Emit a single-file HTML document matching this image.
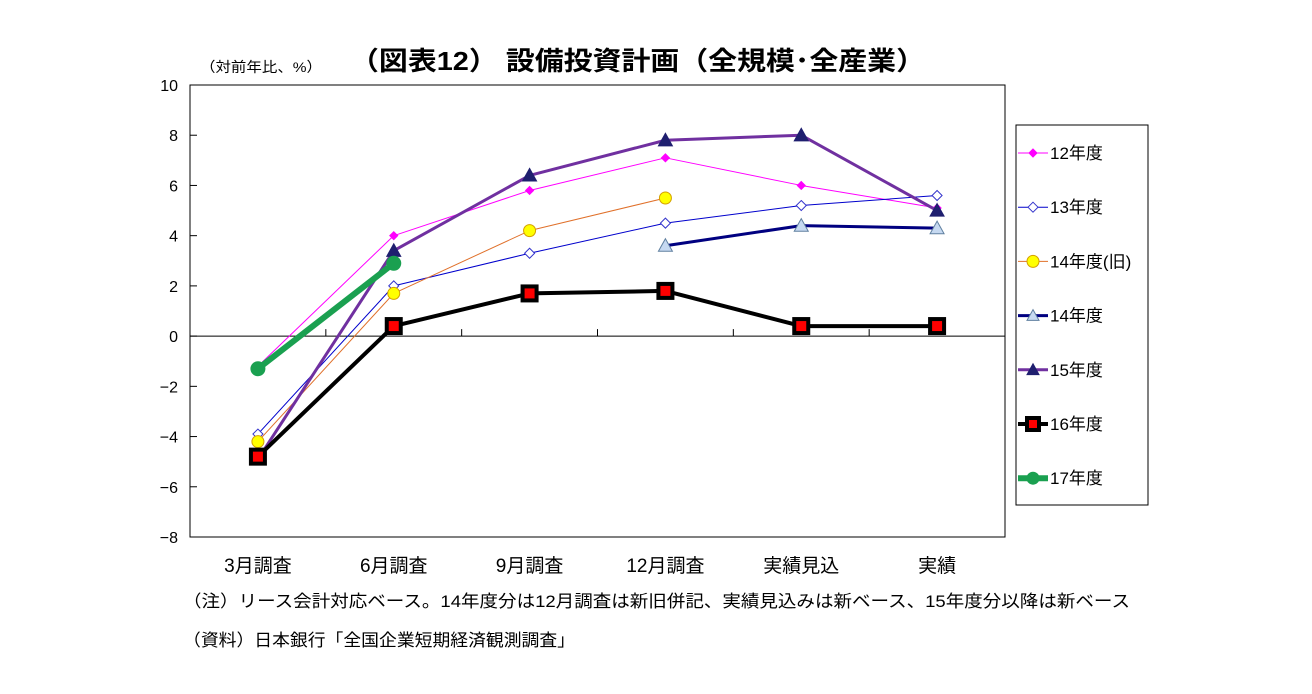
<!DOCTYPE html>
<html><head><meta charset="utf-8"><style>
body{margin:0;background:#fff;width:1312px;height:689px;overflow:hidden;font-family:"Liberation Sans","Noto Sans CJK JP",sans-serif}
svg text{font-family:"Liberation Sans","Noto Sans CJK JP",sans-serif}
</style></head><body>
<svg id="c" width="1312" height="689"></svg>
<script>
const categories=["3月調査","6月調査","9月調査","12月調査","実績見込","実績"];
const yTicks=[10,8,6,4,2,0,-2,-4,-6,-8];
const s12=[-1.2,4.0,5.8,7.1,6.0,5.1];
const s13=[-3.9,2.0,3.3,4.5,5.2,5.6];
const s14old=[-4.2,1.7,4.2,5.5,null,null];
const s14=[null,null,null,3.6,4.4,4.3];
const s15=[-4.9,3.4,6.4,7.8,8.0,5.0];
const s16=[-4.8,0.4,1.7,1.8,0.4,0.4];
const s17=[-1.3,2.9,null,null,null,null];
const seriesNames=["12年度","13年度","14年度(旧)","14年度","15年度","16年度","17年度"];

const NS="http://www.w3.org/2000/svg",svg=document.getElementById('c');
const L=190,R=1005,T=85,B=537,yMin=-8,yMax=10;
const xs=i=>L+(R-L)/categories.length*(i+0.5);
const ys=v=>B-(v-yMin)/(yMax-yMin)*(B-T);
function el(t,a,p){const e=document.createElementNS(NS,t);for(const k in a)e.setAttribute(k,a[k]);(p||svg).appendChild(e);return e;}
function txt(x,y,s,a,p){const e=el('text',Object.assign({x,y},a),p);e.textContent=s;return e;}

const st=[
 {d:s12,c:"#ff00ff",w:1,m:"diamond",mf:"#ff00ff",ms:4},
 {d:s13,c:"#0000cc",w:1,m:"diamond",mf:"#fff",ms:5,mc:"#3333cc"},
 {d:s14old,c:"#e0702a",w:1,m:"circle",mf:"#ffff00",ms:6,mc:"#d4a000"},
 {d:s14,c:"#000080",w:3,m:"tri",mf:"#c6d9f1",ms:7,mc:"#6080a0"},
 {d:s15,c:"#7030a0",w:3,m:"tri",mf:"#1f1f6f",ms:7,mc:"#1f1f6f"},
 {d:s16,c:"#000",w:4,m:"square",mf:"#ff0000",ms:7,mc:"#000"},
 {d:s17,c:"#1aa050",w:6,m:"circle",mf:"#1aa050",ms:7,mc:"#1aa050"}
];
function marker(g,m,x,y){
 let e;
 if(m.m=="diamond")e=el('polygon',{points:`${x},${y-m.ms} ${x+m.ms},${y} ${x},${y+m.ms} ${x-m.ms},${y}`},g);
 else if(m.m=="circle")e=el('circle',{cx:x,cy:y,r:m.ms},g);
 else if(m.m=="tri")e=el('polygon',{points:`${x},${y-m.ms} ${x+m.ms},${y+m.ms*0.8} ${x-m.ms},${y+m.ms*0.8}`},g);
 else {e=el('rect',{x:x-m.ms,y:y-m.ms,width:m.ms*2,height:m.ms*2},g);e.setAttribute('stroke-width',4);}
 e.setAttribute('fill',m.mf);e.setAttribute('stroke',m.mc||m.c);
 if(m.m!="square")e.setAttribute('stroke-width',1);
 return e;
}
const pa=el('rect',{x:L,y:T,width:R-L,height:B-T,fill:"#fff",stroke:"#000","stroke-width":1});

yTicks.forEach(v=>{
 el('line',{x1:L,x2:L+7,y1:ys(v),y2:ys(v),stroke:"#000"});
 const t=txt(L-12,ys(v)+6,String(v).replace('-','−'),{"text-anchor":"end","font-size":16});
 
});
const zl=el('line',{x1:L,x2:R,y1:ys(0),y2:ys(0),stroke:"#000"});

for(let i=1;i<categories.length;i++){const x=L+(R-L)/categories.length*i;el('line',{x1:x,x2:x,y1:ys(0),y2:ys(0)-7,stroke:"#000"});}
categories.forEach((c,i)=>{const t=txt(xs(i),572,c,{"text-anchor":"middle","font-size":19});
 });
st.forEach((s,k)=>{
 const g=el('g',{});
 
 let pts=[];s.d.forEach((v,i)=>{if(v!=null)pts.push(xs(i)+","+ys(v));});
 el('polyline',{points:pts.join(" "),fill:"none",stroke:s.c,"stroke-width":s.w,"stroke-linejoin":"round"},g);
 s.d.forEach((v,i)=>{if(v!=null){const m=marker(g,s,xs(i),ys(v));}});
});
const lg=el('g',{});
el('rect',{x:1016,y:125,width:132,height:380,fill:"#fff",stroke:"#000"},lg);
st.forEach((s,k)=>{
 const y=153+k*54.2,g=el('g',{},lg);
 
 el('line',{x1:1018,x2:1048,y1:y,y2:y,stroke:s.c,"stroke-width":s.w},g);
 marker(g,Object.assign({},s,{ms:Math.min(s.ms,6)}),1033,y);
 txt(1050,y+6,seriesNames[k],{"font-size":17},g);
});
let t=txt(200,72,"（対前年比、%）",{"font-size":14,textLength:122,lengthAdjust:"spacingAndGlyphs"});
t=txt(350,70,"（図表12） 設備投資計画（全規模･全産業）",{"font-size":26,"font-weight":"bold",textLength:575,lengthAdjust:"spacingAndGlyphs"});
t=txt(183,607,"（注）リース会計対応ベース。14年度分は12月調査は新旧併記、実績見込みは新ベース、15年度分以降は新ベース",{"font-size":17,textLength:947,lengthAdjust:"spacingAndGlyphs"});
t=txt(183,646,"（資料）日本銀行「全国企業短期経済観測調査」",{"font-size":17,textLength:392,lengthAdjust:"spacingAndGlyphs"});
</script>
</body></html>
